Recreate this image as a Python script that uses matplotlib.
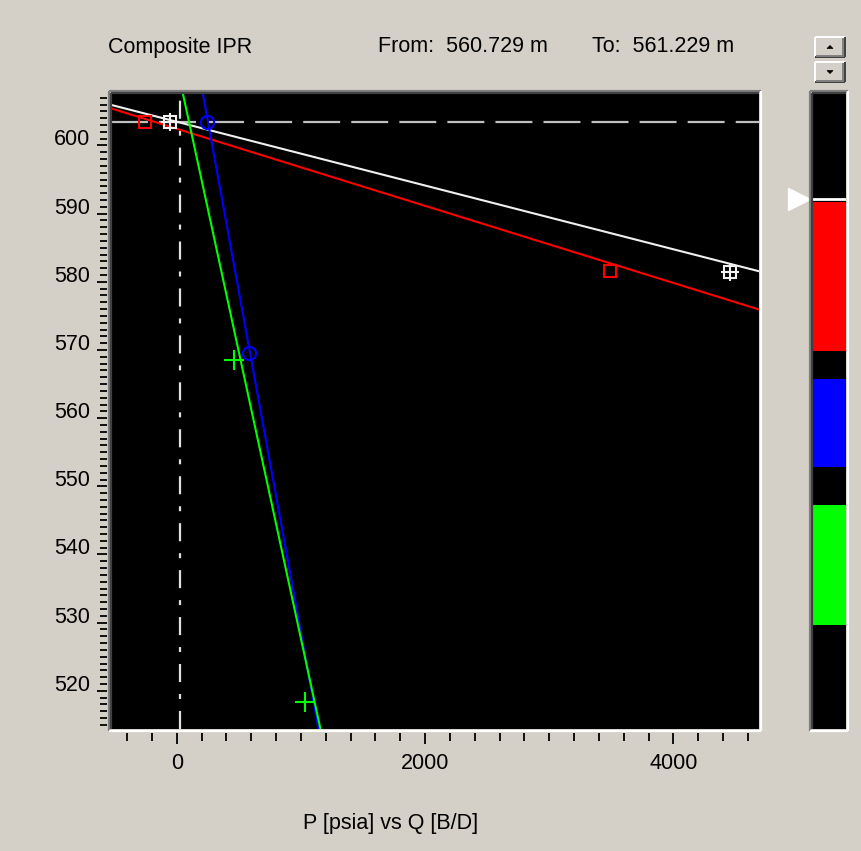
import matplotlib
matplotlib.use("Agg")
import matplotlib.pyplot as plt
from matplotlib.lines import Line2D
from matplotlib.patches import Rectangle, Polygon
from matplotlib.ticker import MultipleLocator
import matplotlib.transforms as mtransforms

plt.rcParams["font.family"] = ["Liberation Sans", "DejaVu Sans"]
plt.rcParams["ytick.alignment"] = "baseline"
plt.rcParams["lines.scale_dashes"] = False

# Dados
title = "Composite IPR"
depth_from = 560.729
depth_to = 561.229
x_label = "P [psia] vs Q [B/D]"

q_lim = (-530, 4690)
p_lim = (514.4, 607.7)
p_res = 603.5      # linha tracejada horizontal
q_ref = 28         # linha traço-ponto vertical

# retas IPR (Q, P)
white_q = [-530, 4690]
white_p = [605.96, 581.55]
red_q = [-530, 4690]
red_p = [605.45, 575.94]
blue_q = [209, 1141]
blue_p = [607.67, 514.45]
green_q = [48, 1157]
green_p = [607.7, 514.45]

# pontos de teste
red_pts_q = [-257, 3486]
red_pts_p = [603.43, 581.55]
white_pts_q = [-56, 4458]
white_pts_p = [603.5, 581.4]
blue_pts_q = [241, 581]
blue_pts_p = [603.5, 569.6]
green_pts_q = [460, 1036]
green_pts_p = [568.6, 518.4]

# barra de camadas (0 = topo, 100 = base)
layer_top = [17.1, 45.0, 64.8]
layer_bot = [40.6, 58.8, 83.6]
layer_col = ["#ff0000", "#0000ff", "#00ff00"]
marker_depth = 16.7

BG = "#d4d0c8"
W, H = 862, 851


def fx(px):
    return px / W


def fy(py):
    return 1 - py / H


fig = plt.figure(figsize=(W / 100, H / 100), dpi=100, facecolor=BG)


def sunken(x0, y0, x1, y1):
    segs = [([x0, x1], [y0, y0], "#808080"), ([x0, x0], [y0, y1], "#808080"),
            ([x0 + 2, x1 - 2], [y0 + 2, y0 + 2], "#404040"),
            ([x0 + 2, x0 + 2], [y0 + 2, y1 - 2], "#404040"),
            ([x0, x1], [y1, y1], "white"), ([x1, x1], [y0, y1], "white")]
    for xs, ys, c in segs:
        fig.add_artist(Line2D([fx(v) for v in xs], [fy(v) for v in ys],
                              color=c, lw=1.6, solid_capstyle="butt"))


def button(x0, y0, x1, y1, up):
    fig.add_artist(Rectangle((fx(x0), fy(y1)), fx(x1) - fx(x0), fy(y0) - fy(y1),
                             facecolor=BG, edgecolor="none"))
    segs = [([x0, x1], [y0, y0], "white"), ([x0, x0], [y0, y1], "white"),
            ([x0, x1], [y1, y1], "#404040"), ([x1, x1], [y0, y1], "#404040"),
            ([x0 + 1, x1 - 1], [y1 - 1.5, y1 - 1.5], "#808080"),
            ([x1 - 1.5, x1 - 1.5], [y0 + 1, y1 - 1], "#808080")]
    for xs, ys, c in segs:
        fig.add_artist(Line2D([fx(v) for v in xs], [fy(v) for v in ys],
                              color=c, lw=1.4, solid_capstyle="butt"))
    cx, cy = (x0 + x1) / 2, (y0 + y1) / 2
    if up:
        tri = [(cx - 3, cy + 1.5), (cx + 3, cy + 1.5), (cx, cy - 1.5)]
    else:
        tri = [(cx - 3, cy - 1.5), (cx + 3, cy - 1.5), (cx, cy + 1.5)]
    fig.add_artist(Polygon([(fx(a), fy(b)) for a, b in tri], closed=True,
                           facecolor="black", edgecolor="black", lw=0.5))


# eixo principal
ax = fig.add_axes([fx(111), fy(729), fx(759) - fx(111), fy(93) - fy(729)])
ax.set_facecolor("black")
ax.set_xlim(*q_lim)
ax.set_ylim(*p_lim)

for s in ["top", "right"]:
    ax.spines[s].set_visible(False)
ax.spines["left"].set_position(("outward", 3))
ax.spines["bottom"].set_position(("outward", 3))
ax.spines["left"].set_color("none")
ax.spines["bottom"].set_color("none")

ax.xaxis.set_major_locator(MultipleLocator(2000))
ax.xaxis.set_minor_locator(MultipleLocator(200))
ax.yaxis.set_major_locator(MultipleLocator(10))
ax.yaxis.set_minor_locator(MultipleLocator(1))
ax.tick_params(axis="y", which="major", direction="out", length=7.2, width=1.3,
               pad=5, labelsize=15.5, color="black")
ax.tick_params(axis="y", which="minor", direction="out", length=5, width=1.3,
               color="black")
ax.tick_params(axis="x", which="major", direction="out", length=8, width=1.3,
               pad=6.5, labelsize=15.5, color="black")
ax.tick_params(axis="x", which="minor", direction="out", length=5.8, width=1.3,
               color="black")
ax.set_xticks([0, 2000, 4000])
ax.set_yticks(range(520, 601, 10))

# linhas de referência
ax.axhline(p_res, color="#c0c0c0", lw=1.6, linestyle=(0, (26.6, 8)))
ax.axvline(q_ref, color="#e0e0e0", lw=1.6, linestyle=(0, (13, 8.6, 3.6, 8.6)))

# retas IPR
ax.plot(white_q, white_p, color="#f0f0f0", lw=1.5)
ax.plot(red_q, red_p, color="#ff0000", lw=1.5)
ax.plot(blue_q, blue_p, color="#0000ff", lw=1.5)
ax.plot(green_q, green_p, color="#00ff00", lw=1.5)

# pontos
ax.plot(red_pts_q, red_pts_p, "s", ms=9, mfc="none", mec="#ff0000", mew=1.5)
ax.plot(white_pts_q, white_pts_p, "s", ms=9, mfc="none", mec="#f0f0f0", mew=1.5)
ax.plot(white_pts_q, white_pts_p, "+", ms=13, mec="#f0f0f0", mew=1.5)
ax.plot(blue_pts_q, blue_pts_p, "o", ms=9.5, mfc="none", mec="#0000ff", mew=1.5)
ax.plot(green_pts_q, green_pts_p, "+", ms=14, mec="#00ff00", mew=1.5)

sunken(109, 91, 761, 731)

# textos
fig.text(fx(108), fy(47), title, fontsize=15.5, va="center", ha="left")
fig.text(fx(378), fy(47), f"From:  {depth_from:.3f} m", fontsize=15.5,
         va="center", ha="left")
fig.text(fx(592), fy(47), f"To:  {depth_to:.3f} m", fontsize=15.5,
         va="center", ha="left")
fig.text(fx(391), fy(823), x_label, fontsize=15.5, va="center", ha="center")

# barra de camadas
axb = fig.add_axes([fx(812), fy(729), fx(846) - fx(812), fy(93) - fy(729)])
axb.set_facecolor("black")
axb.set_xlim(0, 1)
axb.set_ylim(100, 0)
axb.set_xticks([])
axb.set_yticks([])
for s in axb.spines.values():
    s.set_visible(False)
for t, b, c in zip(layer_top, layer_bot, layer_col):
    axb.axhspan(t, b, color=c, lw=0)
axb.axhline(marker_depth, color="white", lw=2)
trans = mtransforms.blended_transform_factory(axb.transAxes, axb.transData)
axb.plot([-0.39], [marker_depth], marker=">", ms=15.5, color="white",
         transform=trans, clip_on=False)
sunken(810, 91, 848, 731)

button(815, 37, 845, 57, True)
button(815, 62, 845, 82, False)

fig.savefig("out.png", dpi=100, facecolor=BG)
